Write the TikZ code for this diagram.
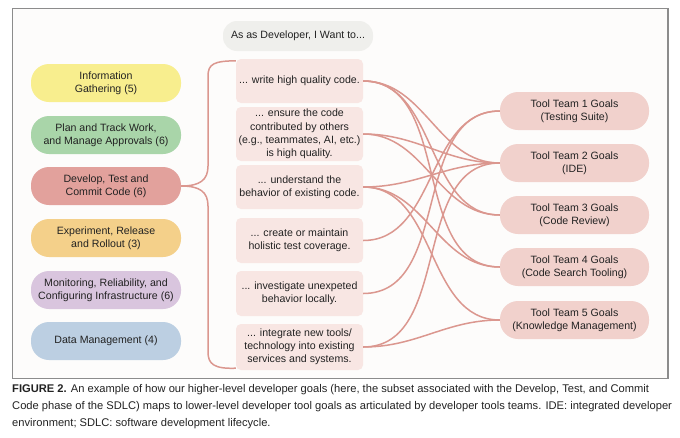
\documentclass[tikz,border=0pt]{standalone}
\usepackage{fontspec}
\setmainfont{Liberation Sans}
\definecolor{infoyellow}{HTML}{F8EE8E}
\definecolor{plangreen}{HTML}{A9D5A9}
\definecolor{devred}{HTML}{E2A19C}
\definecolor{exporange}{HTML}{F4D08A}
\definecolor{monpurple}{HTML}{D9C5DE}
\definecolor{datablue}{HTML}{BCCFE2}
\definecolor{askgray}{HTML}{EFEFEC}
\definecolor{wantpink}{HTML}{F8E6E3}
\definecolor{teampink}{HTML}{F1D1CC}
\definecolor{linkred}{HTML}{DB978F}
\definecolor{framegray}{HTML}{8C8C8C}
\definecolor{paper}{HTML}{FDFCFB}
\definecolor{ink}{HTML}{222222}

\begin{document}
\begin{tikzpicture}[
x = 1pt, y = -1pt,
every node/.style = {font=\fontsize{10.6}{13.2}\selectfont, text=ink, align=center, inner sep=0pt},
phase/.style = {minimum width=150pt, minimum height=38pt, rounded corners=18pt},
want/.style = {fill=wantpink, minimum width=127pt, rounded corners=5pt},
team/.style = {fill=teampink, minimum width=149pt, minimum height=38pt, rounded corners=18pt},
brace/.style = {draw=linkred, line width=1.5pt},
link/.style = {draw=linkred, line width=1.5pt, out=0, in=180}
]
\useasboundingbox (0,0) rectangle (680,437);
\draw[framegray, fill=paper, line width=0.8pt] (12,8) rectangle (668,378);
\draw[framegray, line width=1.6pt] (668,8) -- (668,378);

\node[phase, fill=infoyellow] (info) at (106,83) {Information\\Gathering (5)};
\node[phase, fill=plangreen] (plan) at (106,135) {Plan and Track Work,\\and Manage Approvals (6)};
\node[phase, fill=devred] (dev) at (106,186) {Develop, Test and\\Commit Code (6)};
\node[phase, fill=exporange] (exp) at (106,238) {Experiment, Release\\and Rollout (3)};
\node[phase, fill=monpurple] (mon) at (106,290) {Monitoring, Reliability, and\\Configuring Infrastructure (6)};
\node[phase, fill=datablue] (data) at (106,341) {Data Management (4)};

\node[fill=askgray, minimum width=150pt, minimum height=30pt, rounded corners=14pt] (ask) at (298,36) {As as Developer, I Want to...};

\node[want, minimum height=44pt] (b1) at (299.5,81) {... write high quality code.};
\node[want, minimum height=54pt] (b2) at (299.5,134) {... ensure the code\\contributed by others\\(e.g., teammates, AI, etc.)\\is high quality.};
\node[want, minimum height=44pt] (b3) at (299.5,187) {... understand the\\behavior of existing code.};
\node[want, minimum height=45pt] (b4) at (299.5,240.5) {... create or maintain\\holistic test coverage.};
\node[want, minimum height=45pt] (b5) at (299.5,293.5) {... investigate unexpeted\\behavior locally.};
\node[want, minimum height=46pt] (b6) at (299.5,347) {... integrate new tools/\\technology into existing\\services and systems.};

\node[team] (t1) at (574.5,111) {Tool Team 1 Goals\\(Testing Suite)};
\node[team] (t2) at (574.5,163) {Tool Team 2 Goals\\(IDE)};
\node[team] (t3) at (574.5,215) {Tool Team 3 Goals\\(Code Review)};
\node[team] (t4) at (574.5,267) {Tool Team 4 Goals\\(Code Search Tooling)};
\node[team] (t5) at (574.5,320) {Tool Team 5 Goals\\(Knowledge Management)};

\draw[brace] (dev.east) .. controls (200,186) and (208,180) .. (208,166) -- (208,76)
	.. controls (208,64) and (214,61) .. ([yshift=-2pt]b1.north west);
\draw[brace] (dev.east) .. controls (200,186) and (208,192) .. (208,206) -- (208,352)
	.. controls (208,364) and (214,369) .. ([yshift=2pt]b6.south west);

\foreach \from/\to in {b1/t2, b1/t3, b1/t4, b2/t2, b2/t3, b3/t2, b3/t4, b3/t5, b4/t1, b5/t1, b6/t2, b6/t5}
	\draw[link] (\from.east) to (\to.west);

\node[anchor=north west, align=left, font=\fontsize{11.15}{17}\selectfont] (caption) at (12,384)
	{\textbf{FIGURE 2.} An example of how our higher-level developer goals (here, the subset associated with the Develop, Test, and Commit\\
	Code phase of the SDLC) maps to lower-level developer tool goals as articulated by developer tools teams. IDE: integrated developer\\
	environment; SDLC: software development lifecycle.};
\end{tikzpicture}
\end{document}
